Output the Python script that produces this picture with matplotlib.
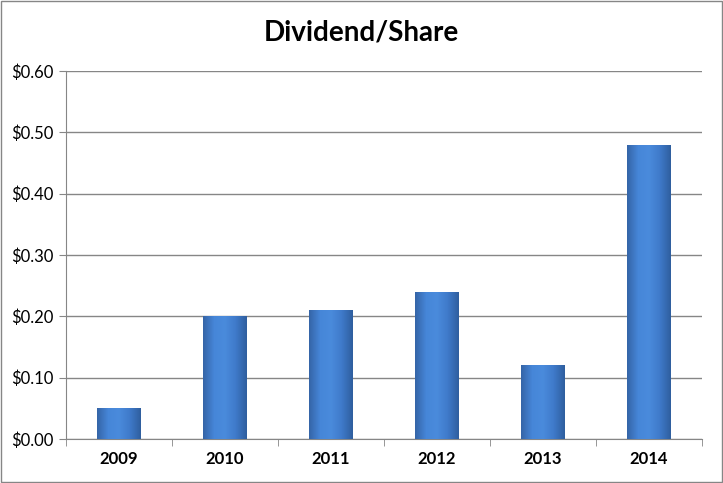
import numpy as np
import matplotlib
matplotlib.use('Agg')
import matplotlib.pyplot as plt
from matplotlib.patches import Rectangle
from matplotlib.colors import LinearSegmentedColormap

# Datos del grafico
anios = ['2009', '2010', '2011', '2012', '2013', '2014']
dividendo = [0.05, 0.20, 0.21, 0.24, 0.12, 0.48]
ticks_y = [0.0, 0.1, 0.2, 0.3, 0.4, 0.5, 0.6]

plt.rcParams['font.family'] = ['Lato', 'DejaVu Sans']
gris = '#868686'

fig = plt.figure(figsize=(7.23, 4.83), dpi=100)
ax = fig.add_axes([66/723, 44/483, 636/723, 368/483])

x = np.arange(len(anios))
barras = ax.bar(x, dividendo, width=0.41, color='#3F78C8', zorder=2)

# Degradado horizontal en cada barra
cmap = LinearSegmentedColormap.from_list('azul', ['#3565A8', '#4686D8', '#4A8BDC', '#3F7ACA', '#2F5F9F'])
grad = np.linspace(0, 1, 64).reshape(1, -1)
for b in barras:
    x0, y0 = b.get_x(), b.get_y()
    im = ax.imshow(grad, cmap=cmap, aspect='auto', zorder=3,
                   extent=[x0, x0 + b.get_width(), y0, y0 + b.get_height()])
    im.set_clip_path(b)

ax.set_xlim(-0.5, len(anios) - 0.5)
ax.set_ylim(0, 0.6)
ax.set_yticks(ticks_y)
ax.set_yticklabels(['$%.2f' % v for v in ticks_y], fontsize=12)
ax.set_xticks(x)
ax.set_xticklabels(anios, fontsize=12, fontweight='bold')
ax.set_xticks(np.arange(-0.5, len(anios)), minor=True)
ax.tick_params(axis='x', which='major', length=0, pad=9)
ax.tick_params(axis='x', which='minor', length=5, color=gris)
ax.tick_params(axis='y', length=5, color=gris, pad=4)
ax.yaxis.grid(True, color=gris, linewidth=1, zorder=0)
ax.set_axisbelow(True)
for s in ['top', 'right']:
    ax.spines[s].set_visible(False)
for s in ['left', 'bottom']:
    ax.spines[s].set_color(gris)

fig.text(0.5, 1 - 33/483, 'Dividend/Share', ha='center', va='center',
         fontsize=20, fontweight='bold')

# Borde exterior del grafico
fig.patches.append(Rectangle((1/723, 1/483), 721/723, 481/483, transform=fig.transFigure,
                             fill=False, edgecolor=gris, linewidth=1))

fig.savefig('out.png', dpi=100)
